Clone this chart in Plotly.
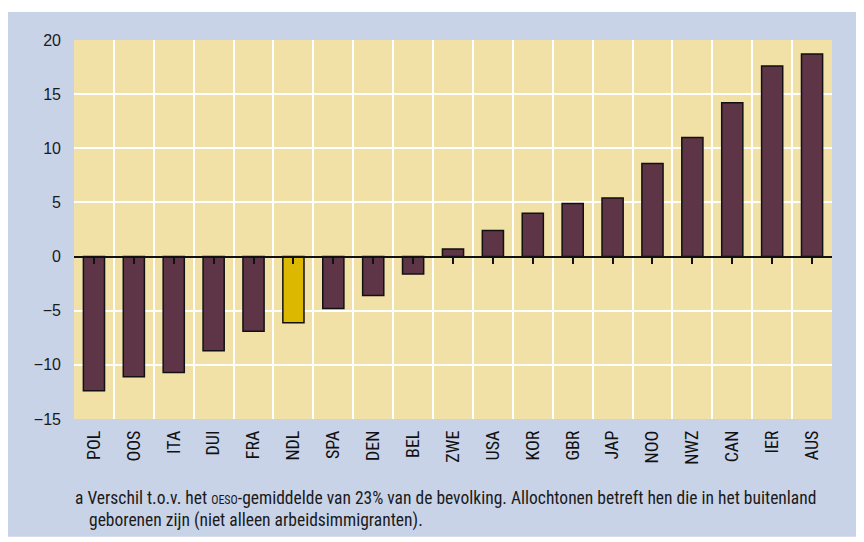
import plotly.graph_objects as go

countries = ["POL", "OOS", "ITA", "DUI", "FRA", "NDL", "SPA", "DEN", "BEL", "ZWE",
             "USA", "KOR", "GBR", "JAP", "NOO", "NWZ", "CAN", "IER", "AUS"]
values = [-12.4, -11.1, -10.7, -8.7, -6.9, -6.1, -4.8, -3.6, -1.6, 0.7,
          2.4, 4.0, 4.9, 5.4, 8.6, 11.0, 14.2, 17.6, 18.7]
highlight = "NDL"
y_ticks = [-15, -10, -5, 0, 5, 10, 15, 20]
y_min, y_max = -15, 20

bar_color = "#5E3546"
hl_color = "#DDB800"
colors = [hl_color if c == highlight else bar_color for c in countries]

note1 = ("a Verschil t.o.v. het <span style='font-size:12px'>OESO</span>-gemiddelde van 23% van de "
         "bevolking. Allochtonen betreft hen die in het buitenland")
note2 = "geborenen zijn (niet alleen arbeidsimmigranten)."

cond = "Roboto Condensed, Liberation Sans, Arial"

fig = go.Figure()
fig.add_trace(go.Bar(
    x=countries, y=values,
    marker=dict(color=colors, line=dict(color="#111111", width=1.5)),
    width=0.53, showlegend=False, hoverinfo="x+y",
))
# invisible trace to carry the zero-line axis with ticks
fig.add_trace(go.Scatter(x=countries, y=values, mode="none", xaxis="x2",
                         showlegend=False, hoverinfo="skip"))

zero_pos = (0 - y_min) / (y_max - y_min)

fig.update_layout(
    width=864, height=542,
    margin=dict(l=66, r=40, t=32, b=131),
    paper_bgcolor="white",
    plot_bgcolor="rgba(0,0,0,0)",
    font=dict(family="Liberation Sans, Arial, sans-serif", color="#1a1a1a"),
    xaxis=dict(
        type="category", categoryorder="array", categoryarray=countries,
        range=[-0.5, len(countries) - 0.5],
        tickson="boundaries", showgrid=True, gridcolor="white", gridwidth=2,
        ticks="", tickangle=-90, showline=False, zeroline=False,
        tickfont=dict(family=cond, size=18, color="#111111"),
        ticklabelstandoff=7,
    ),
    xaxis2=dict(
        type="category", categoryorder="array", categoryarray=countries,
        range=[-0.5, len(countries) - 0.5],
        overlaying="x", anchor="free", position=zero_pos, side="bottom",
        showgrid=False, showticklabels=False, zeroline=False,
        showline=True, linecolor="#111111", linewidth=1.5,
        ticks="outside", ticklen=7, tickwidth=1.5, tickcolor="#111111",
    ),
    yaxis=dict(
        range=[y_min, y_max], tickvals=y_ticks,
        showgrid=True, gridcolor="white", gridwidth=2, zeroline=False,
        ticks="", ticklabelstandoff=12,
        tickfont=dict(size=16, color="#1a1a1a"),
    ),
    shapes=[
        dict(type="rect", xref="paper", yref="paper", x0=-0.0897, x1=1.06,
             y0=-0.311, y1=1.0739, fillcolor="#C9D3E8", line=dict(width=0), layer="below"),
        dict(type="rect", xref="paper", yref="paper", x0=0, x1=1, y0=0, y1=1,
             fillcolor="#F2E1A7", line=dict(width=0), layer="below"),
    ],
    annotations=[
        dict(text=note1, xref="paper", yref="paper", x=-0.0013, y=-0.2084,
             xanchor="left", yanchor="middle", showarrow=False,
             font=dict(family=cond, size=17.5, color="#1a1a1a")),
        dict(text=note2, xref="paper", yref="paper", x=0.0172, y=-0.2665,
             xanchor="left", yanchor="middle", showarrow=False,
             font=dict(family=cond, size=17.5, color="#1a1a1a")),
    ],
)

fig.write_html("out.html")
